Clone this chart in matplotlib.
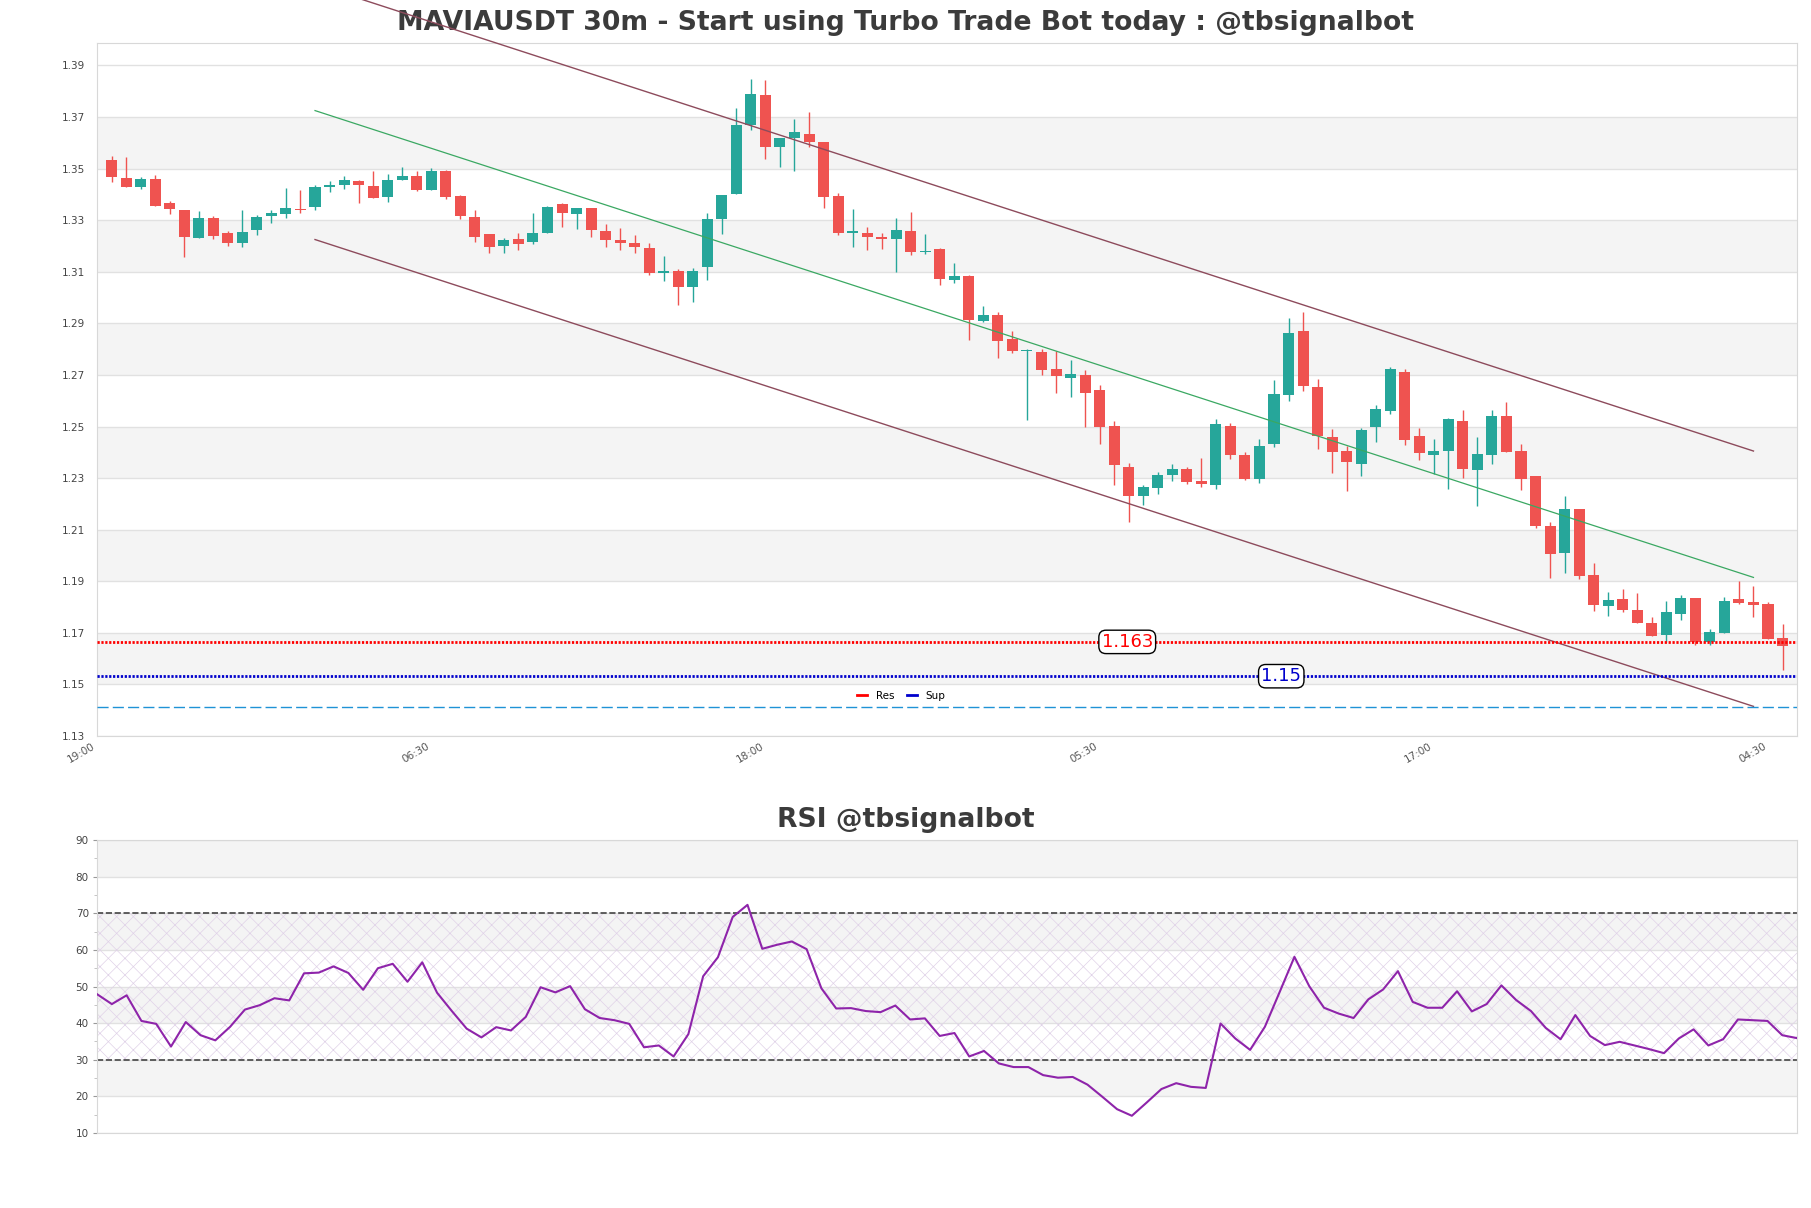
import numpy as np
import matplotlib
matplotlib.use("Agg")
import matplotlib.pyplot as plt
from matplotlib.lines import Line2D

# 30m candles
opens = [1.3535, 1.3465, 1.3428, 1.3461, 1.3365, 1.3341, 1.3230, 1.3310, 1.3249, 1.3211,
         1.3261, 1.3316, 1.3323, 1.3345, 1.3350, 1.3427, 1.3436, 1.3451, 1.3434, 1.3389,
         1.3455, 1.3473, 1.3419, 1.3492, 1.3392, 1.3313, 1.3245, 1.3200, 1.3229, 1.3214,
         1.3250, 1.3361, 1.3323, 1.3349, 1.3260, 1.3225, 1.3211, 1.3194, 1.3096, 1.3104,
         1.3040, 1.3118, 1.3303, 1.3401, 1.3670, 1.3786, 1.3583, 1.3617, 1.3635, 1.3604,
         1.3392, 1.3250, 1.3249, 1.3233, 1.3227, 1.3259, 1.3175, 1.3187, 1.3068, 1.3083,
         1.2909, 1.2931, 1.2841, 1.2791, 1.2788, 1.2722, 1.2689, 1.2699, 1.2641, 1.2502,
         1.2343, 1.2229, 1.2261, 1.2314, 1.2336, 1.2287, 1.2275, 1.2502, 1.2390, 1.2297,
         1.2432, 1.2622, 1.2869, 1.2653, 1.2458, 1.2405, 1.2354, 1.2497, 1.2562, 1.2712,
         1.2464, 1.2388, 1.2406, 1.2522, 1.2333, 1.2391, 1.2542, 1.2405, 1.2310, 1.2116,
         1.2008, 1.2182, 1.1923, 1.1805, 1.1830, 1.1788, 1.1738, 1.1691, 1.1775, 1.1834,
         1.1665, 1.1699, 1.1830, 1.1819, 1.1811, 1.1680]
highs = [1.3548, 1.3544, 1.3469, 1.3477, 1.3376, 1.3341, 1.3334, 1.3317, 1.3260, 1.3338,
         1.3319, 1.3340, 1.3423, 1.3419, 1.3438, 1.3452, 1.3473, 1.3454, 1.3492, 1.3481,
         1.3508, 1.3490, 1.3503, 1.3496, 1.3396, 1.3338, 1.3247, 1.3232, 1.3249, 1.3326,
         1.3354, 1.3367, 1.3349, 1.3349, 1.3287, 1.3268, 1.3241, 1.3210, 1.3162, 1.3109,
         1.3116, 1.3328, 1.3396, 1.3735, 1.3848, 1.3843, 1.3620, 1.3692, 1.3719, 1.3604,
         1.3406, 1.3344, 1.3274, 1.3249, 1.3309, 1.3330, 1.3246, 1.3191, 1.3133, 1.3087,
         1.2966, 1.2944, 1.2869, 1.2800, 1.2800, 1.2793, 1.2757, 1.2720, 1.2661, 1.2520,
         1.2359, 1.2274, 1.2325, 1.2355, 1.2342, 1.2378, 1.2529, 1.2514, 1.2403, 1.2452,
         1.2679, 1.2920, 1.2943, 1.2684, 1.2490, 1.2423, 1.2494, 1.2584, 1.2730, 1.2722,
         1.2495, 1.2453, 1.2535, 1.2565, 1.2461, 1.2565, 1.2595, 1.2433, 1.2310, 1.2131,
         1.2232, 1.2182, 1.1972, 1.1857, 1.1869, 1.1854, 1.1760, 1.1823, 1.1847, 1.1834,
         1.1714, 1.1838, 1.1900, 1.1882, 1.1818, 1.1734]
lows = [1.3447, 1.3428, 1.3420, 1.3354, 1.3323, 1.3157, 1.3230, 1.3227, 1.3200, 1.3197,
        1.3242, 1.3290, 1.3308, 1.3329, 1.3339, 1.3411, 1.3420, 1.3366, 1.3385, 1.3370,
        1.3455, 1.3415, 1.3419, 1.3383, 1.3303, 1.3215, 1.3172, 1.3172, 1.3184, 1.3209,
        1.3250, 1.3273, 1.3265, 1.3234, 1.3196, 1.3183, 1.3172, 1.3087, 1.3064, 1.2971,
        1.2983, 1.3068, 1.3246, 1.3401, 1.3648, 1.3539, 1.3505, 1.3490, 1.3584, 1.3347,
        1.3242, 1.3196, 1.3183, 1.3188, 1.3100, 1.3165, 1.3167, 1.3049, 1.3056, 1.2835,
        1.2906, 1.2765, 1.2786, 1.2526, 1.2701, 1.2631, 1.2615, 1.2500, 1.2432, 1.2275,
        1.2131, 1.2194, 1.2240, 1.2287, 1.2279, 1.2265, 1.2256, 1.2374, 1.2294, 1.2281,
        1.2422, 1.2599, 1.2637, 1.2413, 1.2319, 1.2249, 1.2307, 1.2439, 1.2547, 1.2428,
        1.2369, 1.2316, 1.2256, 1.2301, 1.2191, 1.2356, 1.2403, 1.2252, 1.2105, 1.1912,
        1.1934, 1.1909, 1.1784, 1.1766, 1.1781, 1.1740, 1.1689, 1.1663, 1.1749, 1.1653,
        1.1653, 1.1699, 1.1810, 1.1762, 1.1676, 1.1557]
closes = [1.3466, 1.3428, 1.3461, 1.3354, 1.3343, 1.3234, 1.3307, 1.3238, 1.3211, 1.3256,
          1.3314, 1.3326, 1.3349, 1.3338, 1.3430, 1.3436, 1.3454, 1.3436, 1.3385, 1.3457,
          1.3473, 1.3419, 1.3492, 1.3389, 1.3316, 1.3234, 1.3196, 1.3225, 1.3206, 1.3252,
          1.3350, 1.3327, 1.3349, 1.3261, 1.3223, 1.3211, 1.3196, 1.3095, 1.3102, 1.3040,
          1.3102, 1.3303, 1.3396, 1.3670, 1.3790, 1.3583, 1.3620, 1.3643, 1.3602, 1.3390,
          1.3252, 1.3259, 1.3234, 1.3227, 1.3263, 1.3176, 1.3179, 1.3072, 1.3082, 1.2912,
          1.2931, 1.2832, 1.2793, 1.2797, 1.2720, 1.2697, 1.2702, 1.2631, 1.2500, 1.2349,
          1.2229, 1.2266, 1.2312, 1.2336, 1.2284, 1.2276, 1.2510, 1.2391, 1.2298, 1.2425,
          1.2626, 1.2862, 1.2658, 1.2465, 1.2400, 1.2361, 1.2488, 1.2569, 1.2723, 1.2449,
          1.2396, 1.2405, 1.2530, 1.2337, 1.2394, 1.2542, 1.2403, 1.2298, 1.2116, 1.2004,
          1.2182, 1.1921, 1.1809, 1.1827, 1.1789, 1.1740, 1.1689, 1.1780, 1.1834, 1.1663,
          1.1703, 1.1823, 1.1814, 1.1809, 1.1676, 1.1650]

rsi = [47.9, 45.2, 47.6, 40.6, 39.8, 33.6, 40.3, 36.7, 35.3, 39.0,
       43.7, 44.9, 46.8, 46.2, 53.6, 53.8, 55.5, 53.7, 49.1, 55.0,
       56.2, 51.3, 56.6, 48.3, 43.3, 38.5, 36.1, 38.9, 38.0, 41.7,
       49.8, 48.4, 50.1, 43.8, 41.4, 40.8, 39.8, 33.4, 33.9, 30.9,
       37.0, 52.8, 58.0, 69.0, 72.3, 60.3, 61.4, 62.3, 60.2, 49.5,
       44.0, 44.1, 43.3, 43.0, 44.8, 41.0, 41.3, 36.5, 37.3, 30.9,
       32.4, 29.0, 28.0, 28.0, 25.8, 25.1, 25.3, 23.2, 19.9, 16.5,
       14.7, 18.3, 22.0, 23.6, 22.6, 22.3, 39.9, 35.8, 32.7, 39.0,
       48.5, 58.1, 50.1, 44.2, 42.6, 41.4, 46.5, 49.2, 54.2, 45.8,
       44.2, 44.2, 48.7, 43.2, 45.2, 50.3, 46.3, 43.3, 38.7, 35.6,
       42.2, 36.5, 34.0, 34.9, 33.9, 32.9, 31.8, 35.8, 38.3, 33.9,
       35.6, 41.0, 40.8, 40.6, 36.7, 35.9]

tick_pos = [0, 23, 46, 69, 92, 115]
tick_labels = ['19:00', '06:30', '18:00', '05:30', '17:00', '04:30']

# regression channel (start/end candle, price at each end)
channel_x = [15, 114]
channel_mid = [1.3725, 1.1915]
channel_upper = [1.4215, 1.2405]
channel_lower = [1.3225, 1.1415]

res_level, res_text = 1.1665, '1.163'
sup_level, sup_text = 1.1532, '1.15'
target_level = 1.1413

UP, DOWN = '#26a69a', '#ef5350'
BAND = '#f4f4f4'
GRID = '#e1e1e1'
TXT = '#3b3b3b'

o, h, l, c = map(np.array, (opens, highs, lows, closes))
x = np.arange(1, len(o) + 1)
colors = np.where(c >= o, UP, DOWN)

fig = plt.figure(figsize=(18.11, 12.08), dpi=100)
ax = fig.add_axes([0.0536, 0.3907, 0.9387, 0.5737])
rax = fig.add_axes([0.0536, 0.0621, 0.9387, 0.2425])


def style_axes(a, ticks):
    for k in range(1, len(ticks) - 1, 2):
        a.axhspan(ticks[k], ticks[k + 1], color=BAND, zorder=0, lw=0)
    a.set_yticks(ticks)
    a.grid(axis='y', color=GRID, lw=1, zorder=0.5)
    a.set_axisbelow(True)
    for s in a.spines.values():
        s.set_color('#d8d8d8')
    a.tick_params(axis='y', labelsize=7.5, labelcolor='#444')


# ---- price panel
yt = np.round(np.arange(1.13, 1.395, 0.02), 2)
style_axes(ax, yt)
ax.tick_params(axis='y', length=0, pad=9)
ax.set_yticklabels([f'{v:.2f}' for v in yt])

ax.vlines(x, l, h, color=colors, lw=1.0, zorder=3)
ax.bar(x, np.maximum(np.abs(c - o), 0.0002), bottom=np.minimum(o, c),
       width=0.76, color=colors, lw=0, zorder=3)

ax.plot(channel_x, channel_mid, color='#3aa862', lw=0.9, zorder=4)
ax.plot(channel_x, channel_upper, color='#8d4b5c', lw=1.0, zorder=6, clip_on=False)
ax.plot(channel_x, channel_lower, color='#8d4b5c', lw=1.0, zorder=4)

ax.axhline(res_level, color='red', ls=(0, (0.8, 0.6)), lw=2.0, zorder=4)
ax.axhline(sup_level, color='#0000cc', ls=(0, (0.8, 0.6)), lw=2.0, zorder=4)
ax.axhline(target_level, color='#1f93d6', ls=(0, (8, 3)), lw=1.0, zorder=4)

box = dict(boxstyle='round,pad=0.15,rounding_size=0.4', fc='white', ec='black', lw=1)
ax.text(70.9, res_level, res_text, color='red', fontsize=13, ha='center',
        va='center', bbox=box, zorder=7)
ax.text(81.5, sup_level, sup_text, color='#0000cc', fontsize=13, ha='center',
        va='center', bbox=box, zorder=7)

handles = [Line2D([], [], color='red', lw=2), Line2D([], [], color='#0000cc', lw=2)]
ax.legend(handles, ['Res', 'Sup'], loc='center', bbox_to_anchor=(0.473, 0.058),
          ncol=2, frameon=False, fontsize=7.5, handlelength=1.0, columnspacing=1.2)

ax.set_xlim(0, 117)
ax.set_ylim(1.13, 1.3987)
ax.set_xticks(tick_pos)
ax.set_xticklabels(tick_labels, rotation=30, ha='right', fontsize=7.5, color='#555')
ax.tick_params(axis='x', length=0, pad=4)

ax.text(0.5, 1 - 23 / 1208, 'MAVIAUSDT 30m - Start using Turbo Trade Bot today : @tbsignalbot',
        transform=fig.transFigure, ha='center', va='center', fontsize=19.2,
        fontweight='bold', color=TXT, zorder=5)

# ---- RSI panel
rt = np.arange(10, 91, 10)
style_axes(rax, rt)
rax.set_yticks(np.arange(15, 90, 10), minor=True)
rax.tick_params(axis='y', which='major', length=3, color='#999', pad=3)
rax.tick_params(axis='y', which='minor', length=2, color='#bbb')
rax.set_xticks([])

xr = np.arange(len(rsi))
plt.rcParams['hatch.linewidth'] = 0.5
rax.fill_between([0, len(rsi) - 1], 30, 70, facecolor='none', hatch='xx',
                 edgecolor='#e0d2e8', lw=0, zorder=1)
rax.axhline(70, color='#444', ls='--', lw=1.2, zorder=2)
rax.axhline(30, color='#444', ls='--', lw=1.2, zorder=2)
rax.plot(xr, rsi, color='#8e24aa', lw=1.5, zorder=3)
rax.set_xlim(0, len(rsi) - 1)
rax.set_ylim(10, 90)

fig.text(0.5, 1 - 820 / 1208, 'RSI @tbsignalbot', ha='center', va='center',
         fontsize=19.2, fontweight='bold', color=TXT)

fig.savefig('out.png', dpi=100)
